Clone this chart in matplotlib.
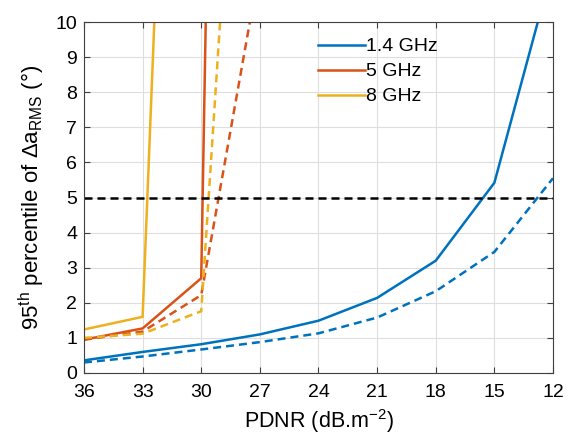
import matplotlib.pyplot as plt

plt.rcParams['font.family'] = ['Liberation Sans', 'DejaVu Sans']
plt.rcParams['mathtext.fontset'] = 'custom'
plt.rcParams['mathtext.rm'] = 'Liberation Sans'
plt.rcParams['mathtext.it'] = 'Liberation Sans'

# PDNR steps (dB.m^-2), plotted on a reversed axis
pdnr = [36, 33, 30, 27, 24, 21, 18, 15, 12]

# 95th percentile values, solid = one case, dashed = the other
ghz14_solid = [0.36, 0.60, 0.82, 1.10, 1.49, 2.14, 3.20, 5.42, 11.6]
ghz14_dash = [0.30, 0.47, 0.67, 0.88, 1.13, 1.58, 2.33, 3.45, 5.55]
ghz5_solid = [0.95, 1.27, 2.70, 98.0]
ghz5_dash = [0.95, 1.18, 2.22, 11.6]
ghz8_solid = [1.24, 1.60, 43.6]
ghz8_dash = [1.00, 1.12, 1.76, 27.4]

c_blue = '#0072BD'
c_red = '#D95319'
c_yel = '#EDB120'
dash = (0, (3.2, 2.0))

fig = plt.figure(figsize=(5.74, 4.41), dpi=100)
ax = fig.add_axes([0.1463, 0.1542, 0.8171, 0.7958])

ax.plot(pdnr, ghz14_solid, color=c_blue, lw=1.8, label='1.4 GHz')
ax.plot(pdnr[:4], ghz5_solid, color=c_red, lw=1.8, label='5 GHz')
ax.plot(pdnr[:3], ghz8_solid, color=c_yel, lw=1.8, label='8 GHz')
ax.plot(pdnr, ghz14_dash, color=c_blue, lw=1.8, ls=dash)
ax.plot(pdnr[:4], ghz5_dash, color=c_red, lw=1.8, ls=dash)
ax.plot(pdnr[:4], ghz8_dash, color=c_yel, lw=1.8, ls=dash)

ax.axhline(5, color='black', lw=1.8, ls=dash)

ax.set_xlim(36, 12)
ax.set_ylim(0, 10)
ax.set_xticks(pdnr)
ax.set_yticks(range(11))
ax.grid(True, color='#dedede', lw=0.8)
ax.set_axisbelow(True)
ax.tick_params(direction='in', top=True, right=True, labelsize=14,
               length=4, color='#404040')
ax.tick_params(axis='x', pad=8)
ax.tick_params(axis='y', pad=5)
for s in ax.spines.values():
    s.set_color('#404040')

ax.set_xlabel('PDNR (dB.m$^{-2}$)', fontsize=15.5, labelpad=4)
ax.set_ylabel('95$^{\\mathrm{th}}$ percentile of $\\Delta$a$_{\\mathrm{RMS}}$ (°)',
              fontsize=16, labelpad=6)

ax.legend(loc='upper left', bbox_to_anchor=(0.462, 1.005), frameon=False,
          fontsize=14, handlelength=2.4, handletextpad=0.05, labelspacing=0.38)

fig.savefig('out.png', dpi=100)
